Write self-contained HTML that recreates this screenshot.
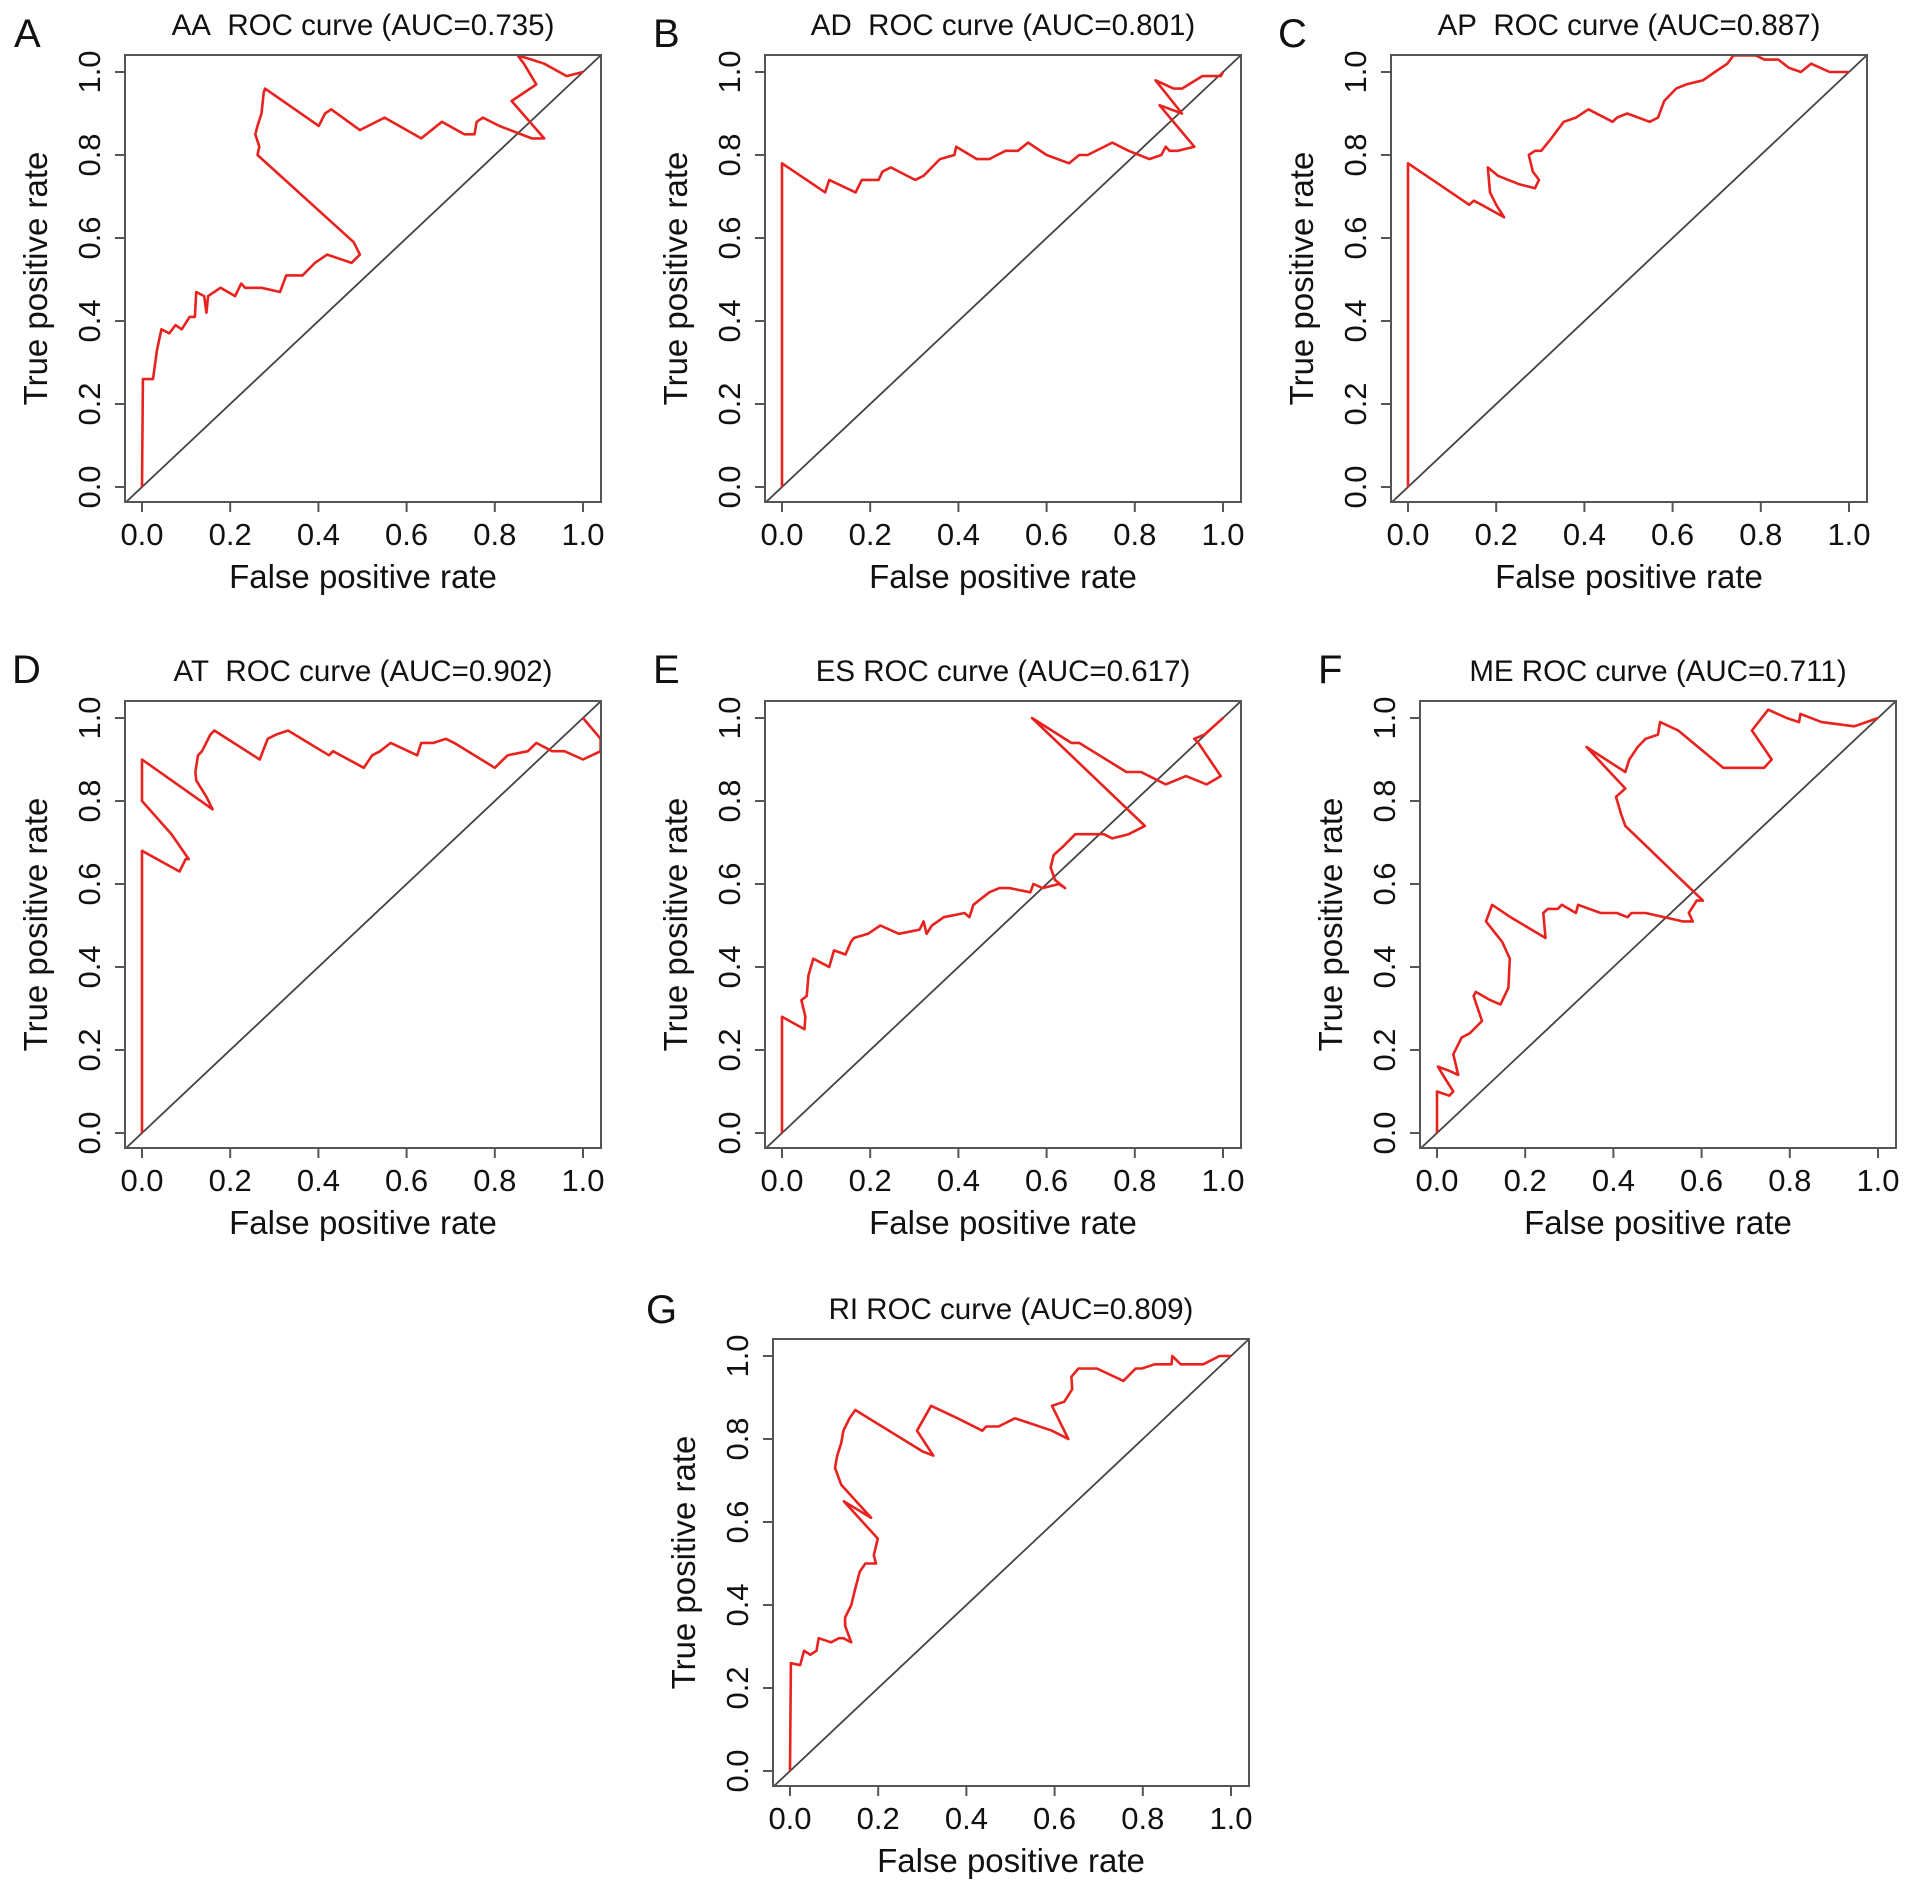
<!DOCTYPE html>
<html><head><meta charset="utf-8">
<style>
html,body{margin:0;padding:0;background:#fff;}
svg{display:block;font-family:"Liberation Sans",Arial,sans-serif;}
</style></head>
<body>
<svg id="chart" width="1913" height="1895" viewBox="0 0 1913 1895" xmlns="http://www.w3.org/2000/svg">
<rect width="1913" height="1895" fill="#fff"/>
</svg>
<script>
const tickValues = [0, 0.2, 0.4, 0.6, 0.8, 1.0];
const tickLabels = ["0.0", "0.2", "0.4", "0.6", "0.8", "1.0"];
const panelLetters = ["A", "B", "C", "D", "E", "F", "G"];
const panelTitles = ["AA\u00a0\u00a0ROC curve (AUC=0.735)", "AD\u00a0\u00a0ROC curve (AUC=0.801)", "AP\u00a0\u00a0ROC curve (AUC=0.887)", "AT\u00a0\u00a0ROC curve (AUC=0.902)", "ES ROC curve (AUC=0.617)", "ME ROC curve (AUC=0.711)", "RI ROC curve (AUC=0.809)"];

const fprAA = [0,0.002,0.025,0.034,0.044,0.062,0.076,0.090,0.108,0.120,0.123,0.141,0.146,0.150,0.178,0.211,0.225,0.234,0.271,0.313,0.327,0.364,0.383,0.392,0.420,0.448,0.475,0.494,0.480,0.262,0.266,0.257,0.262,0.271,0.276,0.279,0.401,0.415,0.429,0.494,0.513,0.550,0.633,0.680,0.731,0.754,0.759,0.773,0.810,0.884,0.912,0.838,0.894,0.866,0.852,0.884,0.912,0.963,1];
const tprAA = [0,0.26,0.26,0.33,0.38,0.37,0.39,0.38,0.41,0.41,0.47,0.46,0.42,0.46,0.48,0.46,0.49,0.48,0.48,0.47,0.51,0.51,0.53,0.54,0.56,0.55,0.54,0.56,0.59,0.80,0.82,0.85,0.87,0.90,0.95,0.96,0.87,0.90,0.91,0.86,0.87,0.89,0.84,0.88,0.85,0.85,0.88,0.89,0.87,0.84,0.84,0.93,0.97,1.02,1.04,1.03,1.02,0.99,1];

const fprAD = [0,0,0.098,0.107,0.167,0.181,0.219,0.228,0.247,0.265,0.302,0.321,0.358,0.391,0.395,0.442,0.470,0.488,0.507,0.535,0.558,0.600,0.651,0.674,0.693,0.749,0.786,0.833,0.860,0.870,0.879,0.898,0.935,0.856,0.907,0.847,0.888,0.907,0.953,0.995,1];
const tprAD = [0,0.78,0.71,0.74,0.71,0.74,0.74,0.76,0.77,0.76,0.74,0.75,0.79,0.80,0.82,0.79,0.79,0.80,0.81,0.81,0.83,0.80,0.78,0.80,0.80,0.83,0.81,0.79,0.80,0.82,0.81,0.81,0.82,0.92,0.90,0.98,0.96,0.96,0.99,0.99,1];

const fprAP = [0,0,0.139,0.149,0.167,0.218,0.200,0.186,0.181,0.204,0.251,0.288,0.297,0.283,0.274,0.288,0.302,0.325,0.353,0.381,0.409,0.464,0.474,0.497,0.548,0.567,0.581,0.608,0.631,0.669,0.696,0.724,0.738,0.789,0.808,0.840,0.864,0.891,0.914,0.956,1];
const tprAP = [0,0.78,0.68,0.69,0.68,0.65,0.68,0.71,0.77,0.75,0.73,0.72,0.74,0.76,0.80,0.81,0.81,0.84,0.88,0.89,0.91,0.88,0.89,0.90,0.88,0.89,0.93,0.96,0.97,0.98,1.00,1.02,1.04,1.04,1.03,1.03,1.01,1.00,1.02,1.00,1];

const fprAT = [0,0,0.085,0.099,0.106,0.067,0,0,0.160,0.146,0.123,0.121,0.127,0.136,0.155,0.164,0.267,0.285,0.304,0.331,0.424,0.433,0.503,0.522,0.540,0.564,0.624,0.633,0.661,0.689,0.708,0.800,0.829,0.875,0.894,0.930,0.958,1.0,1.04,1.04,1];
const tprAT = [0,0.68,0.63,0.66,0.66,0.72,0.80,0.90,0.78,0.81,0.85,0.87,0.91,0.92,0.96,0.97,0.90,0.95,0.96,0.97,0.91,0.92,0.88,0.91,0.92,0.94,0.91,0.94,0.94,0.95,0.94,0.88,0.91,0.92,0.94,0.92,0.92,0.90,0.92,0.95,1];

const fprES = [0,0,0.051,0.053,0.044,0.056,0.060,0.071,0.107,0.118,0.144,0.156,0.163,0.195,0.223,0.265,0.312,0.321,0.328,0.340,0.367,0.414,0.425,0.434,0.470,0.493,0.516,0.563,0.570,0.591,0.628,0.642,0.619,0.609,0.616,0.637,0.665,0.693,0.730,0.749,0.786,0.823,0.567,0.656,0.674,0.781,0.814,0.870,0.916,0.963,0.995,0.944,0.935,0.958,1];
const tprES = [0,0.28,0.25,0.28,0.32,0.33,0.38,0.42,0.40,0.44,0.43,0.46,0.47,0.48,0.50,0.48,0.49,0.51,0.48,0.50,0.52,0.53,0.52,0.55,0.58,0.59,0.59,0.58,0.60,0.59,0.60,0.59,0.61,0.64,0.67,0.69,0.72,0.72,0.72,0.71,0.72,0.74,1.00,0.94,0.94,0.87,0.87,0.84,0.86,0.84,0.86,0.94,0.95,0.96,1];

const fprME = [0,0,0.028,0.037,0.019,0.002,0.028,0.048,0.037,0.056,0.074,0.102,0.083,0.088,0.121,0.144,0.162,0.165,0.148,0.111,0.125,0.167,0.246,0.241,0.251,0.274,0.283,0.315,0.320,0.371,0.408,0.432,0.441,0.473,0.557,0.580,0.571,0.589,0.603,0.427,0.417,0.406,0.427,0.339,0.427,0.436,0.455,0.473,0.501,0.506,0.547,0.649,0.700,0.742,0.759,0.714,0.751,0.793,0.821,0.824,0.872,0.946,0.974,1];
const tprME = [0,0.10,0.09,0.10,0.13,0.16,0.15,0.14,0.19,0.23,0.24,0.27,0.33,0.34,0.32,0.31,0.35,0.42,0.46,0.51,0.55,0.52,0.47,0.53,0.54,0.54,0.55,0.53,0.55,0.53,0.53,0.52,0.53,0.53,0.51,0.51,0.53,0.56,0.56,0.74,0.77,0.81,0.83,0.93,0.87,0.90,0.93,0.95,0.96,0.99,0.97,0.88,0.88,0.88,0.90,0.97,1.02,1.00,0.99,1.01,0.99,0.98,0.99,1];

const fprRI = [0,0.002,0.023,0.032,0.046,0.060,0.065,0.093,0.111,0.121,0.139,0.125,0.125,0.139,0.148,0.158,0.171,0.195,0.190,0.199,0.122,0.184,0.116,0.102,0.107,0.116,0.121,0.135,0.148,0.301,0.325,0.288,0.320,0.380,0.436,0.445,0.473,0.510,0.538,0.594,0.631,0.594,0.622,0.640,0.638,0.654,0.696,0.756,0.784,0.798,0.827,0.865,0.867,0.886,0.909,0.937,0.974,1];
const tprRI = [0,0.26,0.255,0.29,0.28,0.29,0.32,0.31,0.32,0.32,0.31,0.35,0.37,0.40,0.44,0.48,0.50,0.50,0.52,0.56,0.65,0.61,0.69,0.73,0.76,0.79,0.82,0.85,0.87,0.77,0.76,0.82,0.88,0.85,0.82,0.83,0.83,0.85,0.84,0.82,0.80,0.88,0.89,0.92,0.95,0.97,0.97,0.94,0.97,0.97,0.98,0.98,1.00,0.98,0.98,0.98,1.00,1];

const fprSeries = [fprAA, fprAD, fprAP, fprAT, fprES, fprME, fprRI];
const tprSeries = [tprAA, tprAD, tprAP, tprAT, tprES, tprME, tprRI];
const seriesNames = ["aa", "ad", "ap", "at", "es", "me", "ri"];

const boxLeft = [125, 765, 1391, 125, 765, 1420, 773];
const boxTop = [55, 55, 55, 701, 701, 701, 1339];
const letterX = [14, 653, 1278, 12, 653, 1318, 646];
const letterY = [47, 47, 47, 683, 683, 683, 1323];

const NS = "http://www.w3.org/2000/svg";
const svg = document.getElementById("chart");
const BW = 476, BH = 447;
function mk(tag, attrs, parent) {
  const e = document.createElementNS(NS, tag);
  for (const k in attrs) e.setAttribute(k, attrs[k]);
  (parent || svg).appendChild(e);
  return e;
}
const defs = mk("defs", {});

for (let p = 0; p < 7; p++) {
  const bx = boxLeft[p], by = boxTop[p];
  const sx = v => bx + 17 + v * 441;
  const sy = v => by + 432 - v * 415;
  const g = mk("g", {});
  
  

  const cp = mk("clipPath", {id: "clip" + p}, defs);
  mk("rect", {x: bx, y: by, width: BW, height: BH}, cp);

  const letter = mk("text", {x: letterX[p], y: letterY[p], "font-size": 40, fill: "#111"}, g);
  letter.textContent = panelLetters[p];
  
  

  const title = mk("text", {x: bx + 238, y: by - 20, "font-size": 29.5, "text-anchor": "middle", fill: "#111"}, g);
  title.textContent = panelTitles[p];
  
  

  const diag = mk("line", {x1: sx(-0.05), y1: sy(-0.05), x2: sx(1.05), y2: sy(1.05), stroke: "#444", "stroke-width": 1.8, "clip-path": "url(#clip" + p + ")"}, g);
  
  

  const fx = fprSeries[p], ty = tprSeries[p];
  let d = "";
  for (let i = 0; i < fx.length; i++) d += (i ? "L" : "M") + sx(fx[i]).toFixed(1) + "," + sy(ty[i]).toFixed(1);
  const curve = mk("path", {d: d, fill: "none", stroke: "#e8221e", "stroke-width": 2.6, "stroke-linejoin": "round", "clip-path": "url(#clip" + p + ")"}, g);
  
  

  const box = mk("rect", {x: bx, y: by, width: BW, height: BH, fill: "none", stroke: "#555", "stroke-width": 2}, g);
  
  

  for (let i = 0; i < tickValues.length; i++) {
    const xv = sx(tickValues[i]);
    const xt = mk("line", {x1: xv, y1: by + BH, x2: xv, y2: by + BH + 10, stroke: "#555", "stroke-width": 2}, g);
    
    
    const xl = mk("text", {x: xv, y: by + 490, "font-size": 31, "text-anchor": "middle", fill: "#111"}, g);
    xl.textContent = tickLabels[i];
    
    

    const yv = sy(tickValues[i]);
    const yt = mk("line", {x1: bx - 10, y1: yv, x2: bx, y2: yv, stroke: "#555", "stroke-width": 2}, g);
    
    
    const yl = mk("text", {x: 0, y: 0, "font-size": 31, "text-anchor": "middle", fill: "#111", transform: "translate(" + (bx - 25) + "," + yv + ") rotate(-90)"}, g);
    yl.textContent = tickLabels[i];
    
    
  }

  const xTitle = mk("text", {x: bx + 238, y: by + 533, "font-size": 33, "text-anchor": "middle", fill: "#111"}, g);
  xTitle.textContent = "False positive rate";
  
  

  const yTitle = mk("text", {x: 0, y: 0, "font-size": 33, "text-anchor": "middle", fill: "#111", transform: "translate(" + (bx - 78) + "," + (by + BH / 2) + ") rotate(-90)"}, g);
  yTitle.textContent = "True positive rate";
  
  
}
</script>
</body></html>
